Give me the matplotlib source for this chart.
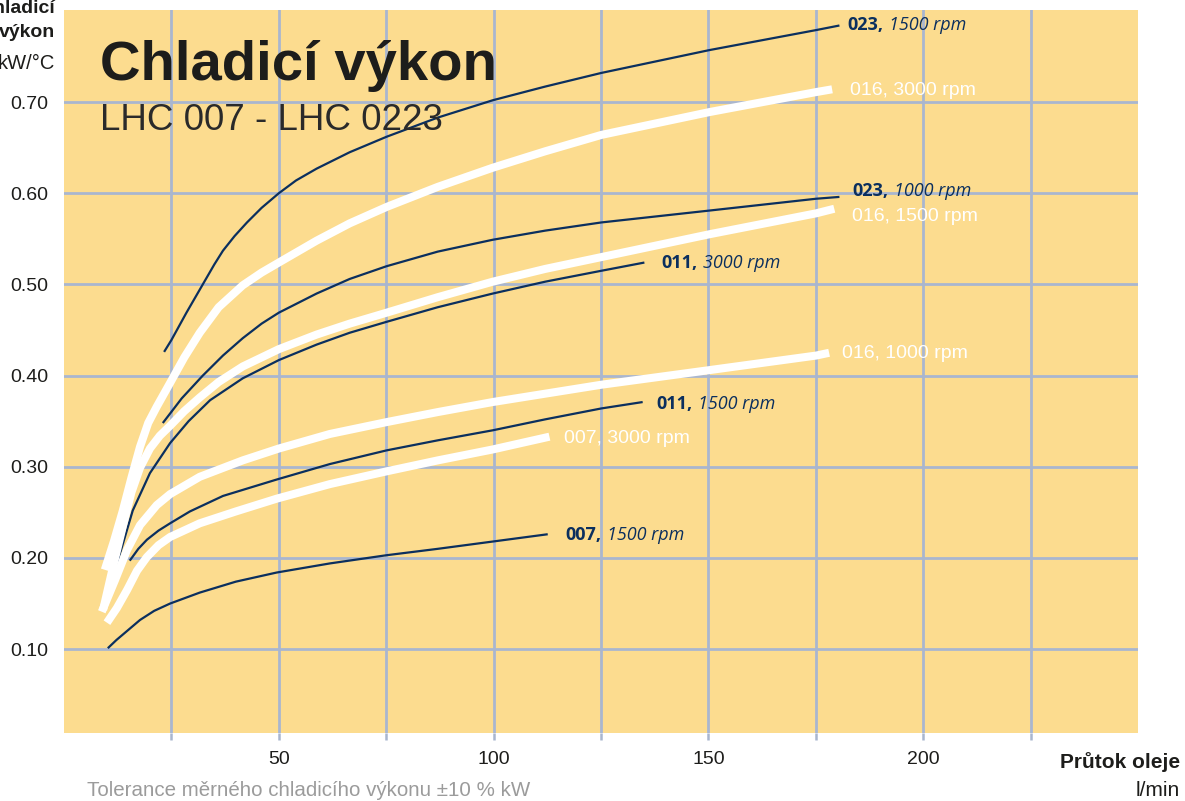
import matplotlib
matplotlib.use("Agg")
import matplotlib.pyplot as plt

# prutok oleje [l/min] -> chladici vykon [kW/°C]
x_023_1500 = [23.3, 25.0, 28.5, 32.3, 35.0, 37.0, 39.7, 42.6, 46.0, 50.0, 54.0, 58.8, 66.5, 75.1, 87.0, 99.8, 112.0, 125.1, 150.2, 175.1, 180.5]
y_023_1500 = [0.426, 0.439, 0.469, 0.500, 0.522, 0.537, 0.553, 0.568, 0.584, 0.600, 0.614, 0.627, 0.645, 0.662, 0.683, 0.702, 0.717, 0.732, 0.757, 0.779, 0.784]

x_023_1000 = [23.0, 27.4, 32.3, 37.0, 41.6, 46.0, 50.0, 58.8, 66.5, 75.1, 87.0, 99.8, 112.0, 125.1, 150.2, 175.1, 180.5]
y_023_1000 = [0.348, 0.375, 0.400, 0.422, 0.441, 0.457, 0.469, 0.490, 0.506, 0.520, 0.536, 0.549, 0.559, 0.568, 0.581, 0.594, 0.596]

x_011_3000 = [9.3, 12.6, 16.0, 20.0, 24.7, 29.0, 34.0, 41.6, 50.0, 58.8, 66.5, 75.1, 87.0, 99.8, 112.0, 125.1, 135.1]
y_011_3000 = [0.145, 0.198, 0.252, 0.293, 0.326, 0.350, 0.373, 0.397, 0.417, 0.434, 0.447, 0.459, 0.475, 0.490, 0.503, 0.515, 0.524]

x_011_1500 = [15.3, 17.3, 19.3, 22.0, 24.7, 29.3, 37.0, 49.5, 61.9, 75.1, 87.0, 99.8, 112.0, 125.1, 134.7]
y_011_1500 = [0.197, 0.210, 0.220, 0.230, 0.238, 0.251, 0.268, 0.286, 0.303, 0.318, 0.329, 0.340, 0.352, 0.364, 0.371]

x_007_1500 = [10.2, 12.2, 14.2, 17.7, 21.0, 24.7, 31.6, 40.0, 49.5, 61.9, 75.1, 87.0, 99.8, 112.6]
y_007_1500 = [0.101, 0.110, 0.118, 0.132, 0.142, 0.150, 0.162, 0.174, 0.184, 0.194, 0.203, 0.210, 0.218, 0.226]

x_016_3000 = [9.5, 11.6, 13.7, 15.7, 17.7, 19.6, 21.6, 24.7, 28.0, 31.6, 36.0, 41.6, 46.0, 50.0, 58.8, 66.5, 75.1, 87.0, 99.8, 112.0, 125.1, 150.2, 175.1, 178.8]
y_016_3000 = [0.187, 0.218, 0.252, 0.288, 0.322, 0.348, 0.366, 0.392, 0.420, 0.447, 0.475, 0.499, 0.513, 0.524, 0.548, 0.567, 0.585, 0.607, 0.628, 0.646, 0.664, 0.689, 0.711, 0.714]

x_016_1500 = [9.1, 11.4, 13.7, 15.7, 17.7, 20.0, 22.3, 24.7, 28.0, 31.6, 36.0, 41.6, 50.0, 58.8, 66.5, 75.1, 87.0, 99.8, 112.0, 125.1, 150.2, 175.1, 179.3]
y_016_1500 = [0.143, 0.190, 0.235, 0.272, 0.299, 0.320, 0.334, 0.345, 0.361, 0.376, 0.393, 0.410, 0.429, 0.445, 0.457, 0.469, 0.486, 0.503, 0.517, 0.530, 0.555, 0.578, 0.583]

x_016_1000 = [8.8, 11.9, 14.7, 17.7, 21.6, 24.7, 31.6, 41.6, 50.0, 61.9, 75.1, 87.0, 99.8, 125.1, 150.2, 175.1, 178.1]
y_016_1000 = [0.141, 0.176, 0.209, 0.236, 0.258, 0.270, 0.289, 0.307, 0.320, 0.336, 0.349, 0.360, 0.371, 0.390, 0.406, 0.422, 0.425]

x_007_3000 = [10.0, 12.3, 14.7, 17.0, 19.3, 22.0, 24.7, 31.6, 40.0, 49.5, 61.9, 75.1, 87.0, 99.8, 113.0]
y_007_3000 = [0.129, 0.145, 0.165, 0.186, 0.201, 0.214, 0.223, 0.238, 0.251, 0.265, 0.281, 0.295, 0.307, 0.319, 0.333]

# popisky krivek: cislo (tucne), otacky (kurziva), poloha
labels = [
    ("023,", "1500 rpm", 182.3, 0.784),
    ("023,", "1000 rpm", 183.5, 0.603),
    ("011,", "3000 rpm", 139.1, 0.523),
    ("011,", "1500 rpm", 137.9, 0.369),
    ("007,", "1500 rpm", 116.7, 0.225),
]
white_labels = [
    ("016, 3000 rpm", 183.0, 0.713),
    ("016, 1500 rpm", 183.5, 0.574),
    ("016, 1000 rpm", 181.2, 0.424),
    ("007, 3000 rpm", 116.5, 0.331),
]

dark_curves = [(x_023_1500, y_023_1500), (x_023_1000, y_023_1000), (x_011_3000, y_011_3000),
               (x_011_1500, y_011_1500), (x_007_1500, y_007_1500)]
white_curves = [(x_016_3000, y_016_3000), (x_016_1500, y_016_1500), (x_016_1000, y_016_1000),
                (x_007_3000, y_007_3000)]

x_ticks = [25, 50, 75, 100, 125, 150, 175, 200, 225]
y_ticks = [0.10, 0.20, 0.30, 0.40, 0.50, 0.60, 0.70]

BG = "#fcdc8f"
GRID = "#a9b6cf"
NAVY = "#0b2f5e"
TXT = "#1d1d1b"

plt.rcParams['font.family'] = ['Liberation Sans', 'DejaVu Sans']

fig = plt.figure(figsize=(11.85, 8.01), dpi=100)
ax = fig.add_axes([64 / 1185, 1 - 733 / 801, (1138 - 64) / 1185, (733 - 10) / 801])
ax.set_facecolor(BG)
ax.set_xlim(0, 250)
ax.set_ylim(0.008, 0.801)
for s in ax.spines.values():
    s.set_visible(False)

ax.set_xticks(x_ticks)
ax.set_xticklabels([str(t) if t % 50 == 0 else "" for t in x_ticks])
ax.set_yticks(y_ticks)
ax.set_yticklabels(["%.2f" % t for t in y_ticks])
ax.tick_params(axis='x', length=5, width=1.8, color=GRID, pad=8, labelsize=14, labelcolor=TXT)
ax.tick_params(axis='y', length=0, pad=11.5, labelsize=14, labelcolor=TXT)
ax.grid(True, color=GRID, linewidth=2.0)
ax.set_axisbelow(True)

for xs, ys in dark_curves:
    ax.plot(xs, ys, color=NAVY, lw=1.6, solid_capstyle='butt', solid_joinstyle='round')
for xs, ys in white_curves:
    ax.plot(xs, ys, color="white", lw=5.8, solid_capstyle='butt', solid_joinstyle='round')

for num, rpm, lx, ly in labels:
    t = ax.text(lx, ly, num, family=['Open Sans', 'DejaVu Sans'], weight='bold',
                fontsize=13, color=NAVY, va='center', ha='left')
    ax.annotate(rpm, xy=(1, 0.5), xycoords=t, xytext=(4, 0), textcoords='offset points',
                family=['Open Sans', 'DejaVu Sans'], style='italic', fontsize=13,
                color=NAVY, va='center', ha='left')
for txt, lx, ly in white_labels:
    ax.text(lx, ly, txt, fontsize=14, color="white", va='center', ha='left')

# nadpis
fig.text(100 / 1185, 1 - 80 / 801, "Chladicí výkon", fontsize=40.5, weight='bold',
         color=TXT, va='baseline', ha='left')
fig.text(100 / 1185, 1 - 130 / 801, "LHC 007 - LHC 0223", fontsize=26.5, color="#2a2a2a",
         va='baseline', ha='left')

# popis osy y (v originale zleva oriznuty)
fig.text(55 / 1185, 1 - 13 / 801, "Chladicí", fontsize=14, weight='bold', color=TXT,
         va='baseline', ha='right')
fig.text(55 / 1185, 1 - 37 / 801, "výkon", fontsize=14, weight='bold', color=TXT,
         va='baseline', ha='right')
fig.text(55 / 1185, 1 - 69 / 801, "kW/°C", fontsize=14.5, color=TXT, va='baseline', ha='right')

# popis osy x
fig.text(1180 / 1185, 1 - 762 / 801, "Průtok oleje", fontsize=15, weight='bold', color=TXT,
         va='center', ha='right')
fig.text(1180 / 1185, 1 - 790 / 801, "l/min", fontsize=15, color=TXT, va='center', ha='right')

fig.text(87 / 1185, 1 - 790 / 801, "Tolerance měrného chladicího výkonu ±10 % kW", fontsize=14.8,
         color="#9b9b9b", va='center', ha='left')

fig.savefig("out.png", dpi=100, facecolor="white")
